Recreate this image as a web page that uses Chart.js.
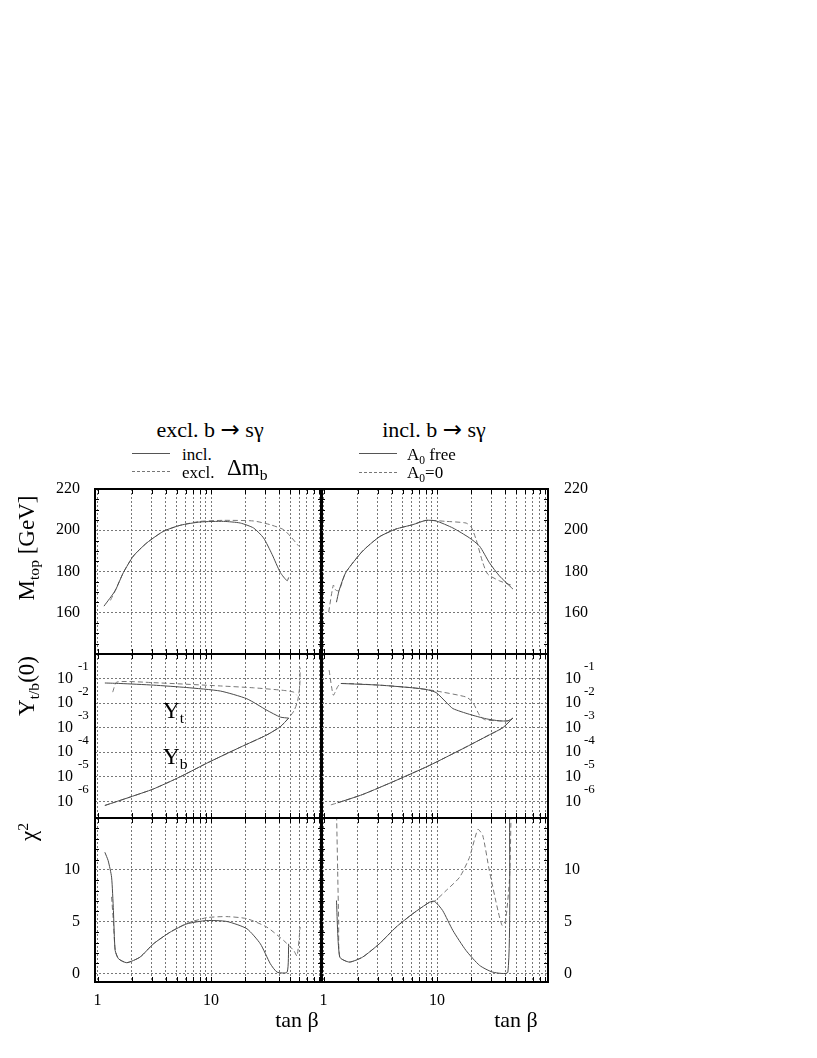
<!DOCTYPE html>
<html>
<head>
<meta charset="utf-8">
<script src="https://cdn.jsdelivr.net/npm/chart.js@4"></script>
<style>
  body { margin: 0; background: #fff; }
  #wrap { position: relative; width: 817px; height: 1058px; font-family: "Liberation Serif", "Times New Roman", serif; color: #000; }
  canvas { position: absolute; }
  .t { position: absolute; white-space: nowrap; line-height: 1; transform: translate(-50%, -50%); }
  .l { position: absolute; white-space: nowrap; line-height: 1; transform: translateY(-50%); }
  .rot { transform: translate(-50%, -50%) rotate(-90deg); }
  .sub { font-size: 68%; position: relative; top: 0.35em; }
  .sup { font-size: 68%; position: relative; top: -0.5em; }
  .arr { font-family: "DejaVu Sans", sans-serif; font-size: 23px; }
  .ln { position: absolute; width: 38px; height: 0; border-top: 1px solid #555; }
  .ln.d { border-top: 1px dashed #777; }
</style>
</head>
<body>
<div id="wrap">
  <canvas id="c11" width="330" height="185" style="left:0;top:479px"></canvas>
  <canvas id="c12" width="504" height="185" style="left:313px;top:479px"></canvas>
  <canvas id="c21" width="330" height="184" style="left:0;top:644px"></canvas>
  <canvas id="c22" width="504" height="184" style="left:313px;top:644px"></canvas>
  <canvas id="c31" width="330" height="214" style="left:0;top:808px"></canvas>
  <canvas id="c32" width="504" height="214" style="left:313px;top:808px"></canvas>

  <div class="t" style="left:210px;top:429px;font-size:22px">excl. b <span class="arr">&rarr;</span> s&gamma;</div>
  <div class="t" style="left:434px;top:429px;font-size:22px">incl. b <span class="arr">&rarr;</span> s&gamma;</div>

  <div class="ln" style="left:132px;top:453px"></div>
  <div class="l" style="left:182px;top:454px;font-size:17px">incl.</div>
  <div class="ln d" style="left:132px;top:471px"></div>
  <div class="l" style="left:182px;top:472px;font-size:17px">excl.</div>
  <div class="l" style="left:227px;top:467px;font-size:23px">&Delta;m<span class="sub">b</span></div>

  <div class="ln" style="left:359px;top:453px"></div>
  <div class="l" style="left:407px;top:454px;font-size:17px">A<span class="sub">0</span> free</div>
  <div class="ln d" style="left:359px;top:472px"></div>
  <div class="l" style="left:407px;top:472px;font-size:17px">A<span class="sub">0</span>=0</div>

  <div class="t rot" style="left:26px;top:548px;font-size:23px">M<span class="sub">top</span> [GeV]</div>
  <div class="t rot" style="left:26px;top:686px;font-size:23px">Y<span class="sub">t/b</span>(0)</div>
  <div class="t rot" style="left:28px;top:832px;font-size:23px">&chi;<span class="sup">2</span></div>

  <div class="l" style="left:163px;top:710px;font-size:23px">Y<span class="sub">t</span></div>
  <div class="l" style="left:163px;top:756px;font-size:23px">Y<span class="sub">b</span></div>

  <div class="t" style="left:297px;top:1020px;font-size:22px">tan &beta;</div>
  <div class="t" style="left:516px;top:1020px;font-size:22px">tan &beta;</div>
</div>
<script>
// axis grids and ticks
const xGrid = [1, 2, 3, 4, 5, 6, 7, 8, 9, 10, 20, 30, 40, 50, 60, 70, 80, 90];
const xLabels = [1, 10];
const mtopTicks = [160, 180, 200, 220];
const mtopMinor = [145, 150, 155, 165, 170, 175, 185, 190, 195, 205, 210, 215];
const yukTicks = [1e-6, 1e-5, 1e-4, 1e-3, 1e-2, 1e-1];
const chiTicks = [0, 5, 10];
const chiMinor = [1, 2, 3, 4, 6, 7, 8, 9, 11, 12, 13, 14];

// M_top, excl. b->s gamma
const tbMtopInclL = [1.14, 1.43, 1.69, 2.07, 2.72, 3.81, 5.35, 8.03, 12.9, 18.1, 23.7, 29, 34.5, 40.8, 46.8, 48.3];
const mtopInclL   = [163.2, 170.7, 179.5, 187.5, 193.9, 199.5, 202.4, 204.0, 204.3, 203.5, 201.1, 196.3, 188.3, 179.5, 175.5, 177.1];
const tbMtopExclL = [1.3, 1.43, 1.69, 2.07, 2.72, 3.81, 5.35, 8.03, 12.9, 23.7, 33.2, 43.6, 50, 59.2];
const mtopExclL   = [166, 170.7, 179.5, 187.5, 193.9, 199.5, 202.4, 204.3, 204.8, 204.5, 202.7, 200.3, 197.1, 192.3];
// M_top, incl. b->s gamma
const tbMtopFreeR = [1.30, 1.37, 1.57, 2.21, 3.1, 4.35, 6.1, 8.0, 9.8, 13.8, 19.3, 23.7, 28.9, 35.4, 46.6];
const mtopFreeR   = [165.1, 170.7, 179.5, 189.9, 196.8, 200.6, 202.7, 204.8, 204.5, 201.1, 196.3, 192.3, 184.3, 177.9, 171.5];
const tbMtopZeroR = [1.11, 1.22, 1.28, 1.37, 1.57, 2.21, 3.1, 4.35, 6.1, 8.0, 12, 18, 20, 22.1, 25.3, 28, 35.4, 46.6];
const mtopZeroR   = [160.3, 173.4, 171, 170.7, 179.5, 189.9, 196.8, 200.6, 202.7, 204.8, 204.3, 203.5, 201.6, 195.5, 184.3, 178.7, 175.5, 173.1];

// Yukawas, excl. b->s gamma
const tbYtInclL = [1.16, 1.58, 3.11, 6.12, 12.1, 20.7, 31.1, 40.8, 48.3];
const ytInclL   = [0.066, 0.063, 0.054, 0.043, 0.031, 0.015, 0.0051, 0.0027, 0.00245];
const tbYbInclL = [1.16, 1.94, 3.11, 5.35, 9.2, 18.1, 31.1, 40.8, 48.3];
const ybInclL   = [6.8e-7, 1.5e-6, 3.2e-6, 1.0e-5, 3.6e-5, 1.6e-4, 5.1e-4, 1.1e-3, 2.45e-3];
const tbYtExclL = [1.36, 1.48, 3.11, 12.1, 23.7, 43.6, 53.5, 57];
const ytExclL   = [0.028, 0.072, 0.068, 0.050, 0.042, 0.033, 0.028, 0.021];
const tbYbExclL = [1.16, 1.94, 3.11, 5.35, 9.2, 18.1, 31.1, 40.8, 48.3, 54, 58, 60.5, 61];
const ybExclL   = [6.8e-7, 1.5e-6, 3.2e-6, 1.0e-5, 3.6e-5, 1.6e-4, 5.1e-4, 1.1e-3, 2.45e-3, 0.005, 0.0126, 0.05, 0.28];
// Yukawas, incl. b->s gamma
const tbYtFreeR = [1.42, 3.1, 6.1, 8.0, 9.8, 12, 13.8, 19.3, 27.1, 35.4, 42.1, 46.6];
const ytFreeR   = [0.063, 0.054, 0.042, 0.036, 0.027, 0.011, 0.006, 0.0035, 0.0023, 0.0019, 0.0019, 0.00245];
const tbYbFreeR = [1.33, 2.21, 4.35, 8.57, 16.9, 28.9, 38, 46.6];
const ybFreeR   = [8.7e-7, 1.9e-6, 7.1e-6, 2.9e-5, 1.4e-4, 5.1e-4, 1.0e-3, 2.45e-3];
const tbYtZeroR = [1.12, 1.22, 1.33, 1.42, 3.1, 6.1, 9.5, 18, 20.6, 23.7, 26.4, 35.4, 42.1, 46.6];
const ytZeroR   = [0.22, 0.021, 0.046, 0.063, 0.054, 0.042, 0.032, 0.0178, 0.011, 0.0032, 0.0021, 0.0019, 0.0019, 0.00245];
const tbYbZeroR = [1.16, 1.33, 2.21, 4.35, 8.57, 16.9, 28.9, 38, 46.6];
const ybZeroR   = [7.2e-7, 8.7e-7, 1.9e-6, 7.1e-6, 2.9e-5, 1.4e-4, 5.1e-4, 1.0e-3, 2.45e-3];

// chi^2, excl. b->s gamma
const tbChiInclL = [1.16, 1.24, 1.33, 1.38, 1.43, 1.53, 1.81, 2.37, 3.11, 4.36, 6.12, 9.2, 13.8, 20.7, 27.2, 33.3, 38.2, 46.8, 48.3];
const chiInclL   = [11.7, 10.9, 9.3, 6.1, 2.24, 1.44, 1.06, 1.6, 2.88, 4.0, 4.8, 5.12, 5.03, 4.33, 2.88, 0.96, 0.15, 0.15, 2.88];
const tbChiExclL = [1.33, 1.38, 1.43, 1.53, 1.81, 2.37, 3.11, 4.36, 6.12, 9.2, 13.8, 20.7, 31.1, 43.6, 53.5, 57.3, 61];
const chiExclL   = [7.4, 5.0, 2.3, 1.44, 1.06, 1.6, 2.88, 4.0, 4.85, 5.4, 5.5, 5.3, 4.48, 3.2, 2.24, 1.7, 4.5];
// chi^2, incl. b->s gamma
const tbChiFreeR = [1.30, 1.39, 1.69, 2.21, 3.1, 4.35, 6.1, 8.57, 9.5, 11.2, 13.8, 18, 23.7, 31, 42.1, 43.6];
const chiFreeR   = [7.05, 1.6, 1.12, 1.6, 2.88, 4.48, 5.77, 6.88, 6.98, 6.09, 4.16, 2.24, 0.8, 0.15, 0.15, 16];
const tbChiZeroR = [1.30, 1.36, 1.39, 1.69, 2.21, 3.1, 4.35, 6.1, 8.57, 9.5, 12, 15.8, 19.3, 22.9, 25.3, 28.9, 34.4, 37.5, 40.2, 43.6, 45];
const chiZeroR   = [16, 5, 1.6, 1.12, 1.6, 2.88, 4.48, 5.77, 6.88, 6.98, 8.0, 9.29, 11.2, 13.9, 13.3, 9.93, 6.09, 4.64, 5.13, 9.3, 16];

const zip = (xs, ys) => xs.map((x, i) => ({ x: x, y: ys[i] }));

function solid(xs, ys) {
  return { data: zip(xs, ys), borderColor: '#4a4a4a', borderWidth: 1, pointRadius: 0, tension: 0.2, fill: false };
}
function dashed(xs, ys) {
  return { data: zip(xs, ys), borderColor: '#777', borderWidth: 1, borderDash: [5, 3], pointRadius: 0, tension: 0.2, fill: false };
}

// frame, inner tick marks and 10^n exponents
const framePlugin = {
  id: 'frame',
  afterDraw(chart, args, opts) {
    const a = chart.chartArea, c = chart.ctx;
    const xs = chart.scales.x, ys = chart.scales.y;
    c.save();
    c.strokeStyle = '#000';
    c.lineWidth = 1;
    c.beginPath();
    xGrid.forEach(v => {
      const p = Math.round(xs.getPixelForValue(v)) + 0.5;
      c.moveTo(p, a.bottom); c.lineTo(p, a.bottom - 5);
      c.moveTo(p, a.top); c.lineTo(p, a.top + 5);
    });
    (opts.minorY || []).forEach(v => {
      const p = Math.round(ys.getPixelForValue(v)) + 0.5;
      c.moveTo(a.left, p); c.lineTo(a.left + 4, p);
      c.moveTo(a.right, p); c.lineTo(a.right - 4, p);
    });
    c.stroke();
    c.lineWidth = 2;
    c.strokeRect(a.left, a.top, a.right - a.left, a.bottom - a.top);
    if (opts.exp) {
      c.fillStyle = '#000';
      c.font = '13px "Liberation Serif", serif';
      c.textBaseline = 'middle';
      c.textAlign = 'left';
      yukTicks.forEach(v => {
        const p = ys.getPixelForValue(v);
        const x = ys.position === 'left' ? 78 : a.right + 36;
        c.fillText('-' + Math.round(-Math.log10(v)), x, p - 12);
      });
    }
    c.restore();
  }
};

function panel(id, side, row, yCfg, datasets) {
  const isLeft = side === 'left';
  const bottom = row === 3;
  const yWidth = isLeft ? 95 : 269;
  return new Chart(document.getElementById(id), {
    type: 'line',
    data: { datasets: datasets },
    plugins: [framePlugin],
    options: {
      responsive: false,
      animation: false,
      devicePixelRatio: 1,
      layout: {
        autoPadding: false,
        padding: { top: 10, bottom: bottom ? 0 : 10, left: isLeft ? 0 : 8, right: isLeft ? 8 : 0 }
      },
      plugins: {
        legend: { display: false },
        tooltip: { enabled: false },
        frame: { minorY: yCfg.minor, exp: yCfg.exp }
      },
      scales: {
        x: {
          type: 'logarithmic',
          min: 0.95, max: 95,
          afterBuildTicks: s => { s.ticks = xGrid.map(v => ({ value: v })); },
          afterFit: s => { s.height = bottom ? 40 : 0; s.paddingLeft = 0; s.paddingRight = 0; },
          grid: { color: '#777', lineWidth: 1, drawTicks: false },
          border: { display: false, dash: [2, 2] },
          ticks: {
            display: bottom,
            autoSkip: false, maxRotation: 0, padding: 9,
            color: '#000',
            font: { family: '"Liberation Serif", serif', size: 16 },
            callback: v => xLabels.includes(v) ? String(v) : ''
          }
        },
        y: {
          type: yCfg.type,
          position: side,
          min: yCfg.min, max: yCfg.max,
          afterBuildTicks: s => { s.ticks = yCfg.ticks.map(v => ({ value: v })); },
          afterFit: s => { s.width = yWidth; s.paddingTop = 0; s.paddingBottom = 0; },
          grid: { color: '#777', lineWidth: 1, drawTicks: false },
          border: { display: false, dash: [2, 2] },
          ticks: {
            autoSkip: false,
            padding: yCfg.exp ? (isLeft ? 22 : 17) : (isLeft ? 15 : 16),
            color: '#000',
            font: { family: '"Liberation Serif", serif', size: 16 },
            callback: v => yCfg.exp ? '10' : String(v)
          }
        }
      }
    }
  });
}

const mtopAxis = { type: 'linear', min: 140, max: 220, ticks: mtopTicks, minor: mtopMinor };
const yukAxis = { type: 'logarithmic', min: 2.1e-7, max: 1, ticks: yukTicks, minor: [], exp: true };
const chiAxis = { type: 'linear', min: -0.8, max: 15, ticks: chiTicks, minor: chiMinor };

panel('c11', 'left', 1, mtopAxis, [solid(tbMtopInclL, mtopInclL), dashed(tbMtopExclL, mtopExclL)]);
panel('c12', 'right', 1, mtopAxis, [solid(tbMtopFreeR, mtopFreeR), dashed(tbMtopZeroR, mtopZeroR)]);
panel('c21', 'left', 2, yukAxis, [solid(tbYtInclL, ytInclL), solid(tbYbInclL, ybInclL), dashed(tbYtExclL, ytExclL), dashed(tbYbExclL, ybExclL)]);
panel('c22', 'right', 2, yukAxis, [solid(tbYtFreeR, ytFreeR), solid(tbYbFreeR, ybFreeR), dashed(tbYtZeroR, ytZeroR), dashed(tbYbZeroR, ybZeroR)]);
panel('c31', 'left', 3, chiAxis, [solid(tbChiInclL, chiInclL), dashed(tbChiExclL, chiExclL)]);
panel('c32', 'right', 3, chiAxis, [solid(tbChiFreeR, chiFreeR), dashed(tbChiZeroR, chiZeroR)]);
</script>
</body>
</html>
